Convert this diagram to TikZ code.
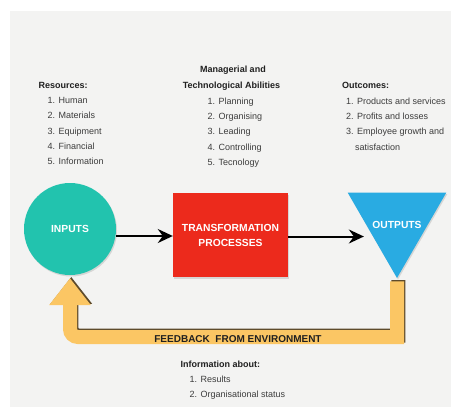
\documentclass[tikz,border=0pt]{standalone}
\usepackage{fontspec}
\setmainfont{Liberation Sans}
\usetikzlibrary{shapes.geometric,arrows.meta,shadows}

\definecolor{paper}{HTML}{F3F3F2}
\definecolor{inteal}{HTML}{22C3AE}
\definecolor{procred}{HTML}{EC2A1C}
\definecolor{outblue}{HTML}{29ABE2}
\definecolor{fbyellow}{HTML}{FBC664}
\definecolor{fbshadow}{HTML}{5E4B2C}
\definecolor{headtext}{HTML}{202020}
\definecolor{itemtext}{HTML}{3C3C3C}

\begin{document}
\begin{tikzpicture}
            [x=1pt,y=-1pt,
             head/.style={anchor=west,inner sep=0pt,text=headtext,font=\bfseries\fontsize{9}{11}\selectfont,text height=7pt,text depth=2pt},
             item/.style={anchor=west,inner sep=0pt,text=itemtext,font=\fontsize{9}{11}\selectfont,text height=7pt,text depth=2pt},
             blocktext/.style={text=white,font=\bfseries\fontsize{10.3}{15}\selectfont,align=center},
             block/.style={blocktext,drop shadow={opacity=.25,shadow xshift=1pt,shadow yshift=-1.5pt}},
             flow/.style={line width=2pt,-{Stealth[length=15pt,width=14pt,inset=5pt]}},
             feedback/.style={line width=14pt,-{Triangle[length=27pt,width=40pt]}}]
            \useasboundingbox (0,0) rectangle (451,407);
            \fill[white] (0,0) rectangle (451,407);
            \fill[paper] (10,11) rectangle (451,407);
            %
            \node[head] (res) at (38.5,86) {Resources:};
            \node[item] (res1) at (47.5,101) {1. Human};
            \node[item] (res2) at (47.5,116.3) {2. Materials};
            \node[item] (res3) at (47.5,131.6) {3. Equipment};
            \node[item] (res4) at (47.5,146.9) {4. Financial};
            \node[item] (res5) at (47.5,162.2) {5. Information};
            %
            \node[head,anchor=center] (abl) at (233,70) {Managerial and};
            \node[head,anchor=center] (abl0) at (231.5,86) {Technological Abilities};
            \node[item] (abl1) at (207.5,101.7) {1. Planning};
            \node[item] (abl2) at (207.5,117) {2. Organising};
            \node[item] (abl3) at (207.5,132.3) {3. Leading};
            \node[item] (abl4) at (207.5,147.6) {4. Controlling};
            \node[item] (abl5) at (207.5,162.9) {5. Tecnology};
            %
            \node[head] (out) at (342,86) {Outcomes:};
            \node[item] (out1) at (346,101.7) {1. Products and services};
            \node[item] (out2) at (346,117) {2. Profits and losses};
            \node[item] (out3) at (346,132.3) {3. Employee growth and};
            \node[item] (out3b) at (355,147.6) {satisfaction};
            %
            \node[block,circle,fill=inteal,minimum size=92pt,inner sep=0pt] (inputs) at (70,229) {INPUTS};
            \node[block,rectangle,fill=procred,minimum width=115pt,minimum height=84pt] (transform) at (230.5,235) {TRANSFORMATION\\PROCESSES};
            \node[block,regular polygon,regular polygon sides=3,shape border rotate=180,fill=outblue,
                  minimum size=114pt,inner sep=0pt,
                  label={[blocktext,yshift=-4pt]center:OUTPUTS}] (outputs) at (397,221) {};
            %
            \draw[flow] (inputs.east |- 0,236) -- (transform.west |- 0,236);
            \draw[flow] (transform.east |- 0,236.5) -- (outputs.west |- 0,236.5);
            %
            \draw[feedback,fbshadow,transform canvas={xshift=1.3pt,yshift=1.3pt}] ([yshift=-3pt]outputs.south) -- (outputs.south |- 0,337)
                [rounded corners=8pt] -- (inputs.south |- 0,337) [sharp corners] -- ([yshift=-3pt]inputs.south);
            \draw[feedback,fbyellow] ([yshift=-3pt]outputs.south) -- (outputs.south |- 0,337)
                [rounded corners=8pt] -- (inputs.south |- 0,337) [sharp corners] -- ([yshift=-3pt]inputs.south);
            \node[text=headtext,font=\bfseries\fontsize{10}{12}\selectfont,inner sep=0pt] (fb) at (238,339.5) {FEEDBACK\ \ FROM ENVIRONMENT};
            %
            \node[head] (info) at (180.5,365) {Information about:};
            \node[item] (info1) at (189.5,379.5) {1. Results};
            \node[item] (info2) at (189.5,395) {2. Organisational status};
        \end{tikzpicture}
\end{document}
